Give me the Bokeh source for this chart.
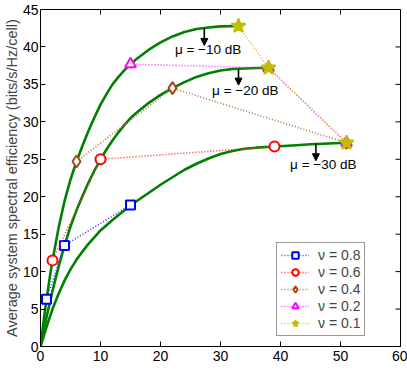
import math
from bokeh.plotting import figure
from bokeh.models import Legend, LegendItem, Arrow, NormalHead, Label, FixedTicker, Range1d
from bokeh.embed import file_html
from bokeh.resources import INLINE

# ---- data ----
# green curves, one per mu
c10_k = [0, 0.5, 1, 1.5, 2, 3, 4, 5, 6, 7, 8, 9, 10, 11, 12, 13, 14, 15, 16, 18, 20, 22, 24, 26, 28, 30, 33]
c10_y = [0, 3.3, 6.3, 9.0, 11.5, 15.8, 19.4, 22.3, 24.7, 26.8, 28.8, 30.6, 32.3, 33.7, 35.0, 36.0, 36.9, 37.7, 38.4,
         39.6, 40.6, 41.4, 42.0, 42.4, 42.6, 42.75, 42.8]
c20_k = [0, 1, 2, 3, 4, 5, 6, 7, 8, 9, 10, 11, 12, 13, 14, 15, 16, 18, 20, 22, 24, 26, 28, 30, 32, 34, 36, 38]
c20_y = [0, 3.9, 7.4, 10.6, 13.5, 16.0, 18.2, 20.1, 21.9, 23.5, 25.0, 26.3, 27.5, 28.6, 29.6, 30.5, 31.2, 32.5,
         33.6, 34.5, 35.3, 36.0, 36.5, 36.85, 37.05, 37.12, 37.18, 37.2]
c30_k = [0, 1, 2, 3, 4, 5, 6, 7, 8, 10, 12, 14, 16, 18, 20, 22, 24, 26, 28, 30, 32, 34, 36, 39, 42, 45, 48, 51]
c30_y = [0, 2.6, 5.0, 7.0, 8.8, 10.3, 11.6, 12.7, 13.7, 15.5, 16.9, 18.2, 19.4, 20.5, 21.6, 22.6, 23.6, 24.4,
         25.1, 25.7, 26.1, 26.4, 26.55, 26.7, 26.85, 27.0, 27.1, 27.2]

# nu series
nu_labels = ["ν = 0.8", "ν = 0.6", "ν = 0.4", "ν = 0.2", "ν = 0.1"]
nu08_k = [1, 4, 15]
nu08_y = [6.3, 13.5, 18.9]
nu06_k = [2, 10, 39]
nu06_y = [11.5, 25.0, 26.7]
nu04_k = [6, 22, 51]
nu04_y = [24.7, 34.5, 27.2]
nu02_k = [15, 38, 51]
nu02_y = [37.7, 37.2, 27.2]
nu01_k = [33, 38, 51]
nu01_y = [42.8, 37.2, 27.2]

# annotations
ann_text = ["μ = −10 dB", "μ = −20 dB", "μ = −30 dB"]
ann_x = [22.4, 28.6, 41.6]
ann_y = [39.6, 34.2, 24.3]
arr_x = [27.3, 33.0, 45.9]
arr_y0 = [42.5, 37.0, 27.1]
arr_y1 = [40.2, 34.9, 24.8]

x_ticks = [0, 10, 20, 30, 40, 50, 60]
y_ticks = [0, 5, 10, 15, 20, 25, 30, 35, 40, 45]
x_max = 60
y_max = 45

FONT = "Liberation Sans"

p = figure(width=407, height=377, output_backend="svg", toolbar_location=None,
           x_range=Range1d(0, x_max), y_range=Range1d(0, y_max),
           min_border_left=36, min_border_right=7, min_border_top=9, min_border_bottom=31)
p.grid.visible = False
p.outline_line_color = "black"
p.outline_line_width = 1
p.background_fill_color = "white"
p.border_fill_color = "white"

for ax in (p.xaxis[0], p.yaxis[0]):
    ax.major_tick_in = 5
    ax.major_tick_out = 0
    ax.minor_tick_line_color = None
    ax.axis_line_color = "black"
    ax.major_label_text_font = FONT
    ax.major_label_text_font_size = "14px"
    ax.major_label_text_color = "black"
p.xaxis[0].ticker = FixedTicker(ticks=x_ticks)
p.yaxis[0].ticker = FixedTicker(ticks=y_ticks)
p.xaxis[0].major_label_standoff = 4
p.yaxis[0].major_label_standoff = 2
p.yaxis[0].axis_label = "Average system spectral efficiency (bits/s/Hz/cell)"
p.yaxis[0].axis_label_text_font = FONT
p.yaxis[0].axis_label_text_font_size = "14.5px"
p.yaxis[0].axis_label_text_font_style = "normal"
p.yaxis[0].axis_label_standoff = 0

# inward ticks on the top and right edges of the box
p.ray(x=[x_max] * len(y_ticks), y=y_ticks, length=5, length_units="screen", angle=math.pi,
      line_color="black", line_width=1)
p.ray(x=x_ticks, y=[y_max] * len(x_ticks), length=5, length_units="screen", angle=-math.pi / 2,
      line_color="black", line_width=1)

# green curves
for ks, ys in ((c10_k, c10_y), (c20_k, c20_y), (c30_k, c30_y)):
    p.line(ks, ys, line_color="#007F00", line_width=2.6, line_join="round")

series = [
    (nu08_k, nu08_y, "#0000FF", "#3535FF", "square", 9, "white"),
    (nu06_k, nu06_y, "#FF0000", "#FF3535", "circle", 10, "white"),
    (nu04_k, nu04_y, "#9C4A1A", "#B8703F", "diamond", 12, "white"),
    (nu02_k, nu02_y, "#FF00FF", "#FF35FF", "triangle", 11, "white"),
    (nu01_k, nu01_y, "#BFBF00", "#D9B833", "star", 15, "#BFBF00"),
]
items = []
for (ks, ys, col, lcol, mk, sz, fc), lab in zip(series, nu_labels):
    lr = p.line(ks, ys, line_color=lcol, line_width=1.6, line_dash="1 2")
    sr = p.scatter(ks, ys, marker=mk, size=sz, line_color=col, line_width=2, fill_color=fc)
    items.append(LegendItem(label=lab, renderers=[lr, sr]))

# annotations
for t, tx, ty in zip(ann_text, ann_x, ann_y):
    p.add_layout(Label(x=tx, y=ty, text=t, text_font=FONT, text_font_size="13.5px",
                       text_baseline="middle", text_align="left", text_color="black"))
for ax_, y0, y1 in zip(arr_x, arr_y0, arr_y1):
    p.add_layout(Arrow(end=NormalHead(size=7, fill_color="black", line_color="black"),
                       x_start=ax_, y_start=y0, x_end=ax_, y_end=y1,
                       line_color="black", line_width=1.6))

# x-axis label
p.add_layout(Label(x=x_max / 2, y=-2.75, text="K", text_font="Liberation Serif",
                   text_font_style="italic", text_font_size="18px",
                   text_align="center", text_baseline="middle", text_color="black"))

legend = Legend(items=items, location=(236, 10))
legend.label_text_font = FONT
legend.label_text_font_size = "14px"
legend.glyph_width = 28
legend.glyph_height = 16
legend.label_height = 16
legend.label_standoff = 9
legend.spacing = 1
legend.padding = 4
legend.margin = 0
legend.border_line_color = "#333333"
legend.border_line_width = 1
legend.background_fill_alpha = 1
p.add_layout(legend, "center")

open("out.html", "w").write(file_html(p, INLINE))
